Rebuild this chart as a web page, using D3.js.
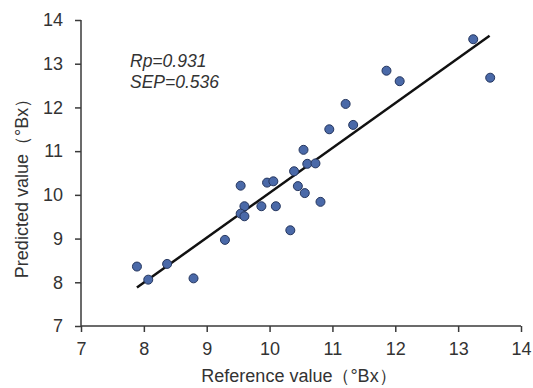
<!DOCTYPE html>
<html>
<head>
<meta charset="utf-8">
<script src="https://cdn.jsdelivr.net/npm/d3@7"></script>
<style>
	body { margin: 0; background: #fff; }
	svg { display: block; font-family: Arial, 'Liberation Sans', sans-serif; }
	.axis path, .axis line { stroke: #3a3a3a; stroke-width: 1.5; }
	.axis text { fill: #333; font-size: 18px; font-family: Arial, 'Liberation Sans', sans-serif; }
</style>
</head>
<body>
<div id="chart"></div>
<script>
// reference (x) vs predicted (y), °Bx
const referenceValues = [7.89, 8.07, 8.37, 8.79, 9.29, 9.54, 9.60, 9.54, 9.60, 9.87,
	9.96, 10.06, 10.10, 10.33, 10.45, 10.56, 10.81, 10.39, 10.54, 10.60,
	10.73, 10.95, 11.21, 11.33, 11.86, 12.07, 13.24, 13.51];
const predictedValues = [8.36, 8.06, 8.42, 8.09, 8.97, 10.21, 9.74, 9.57, 9.51, 9.74,
	10.28, 10.31, 9.74, 9.19, 10.20, 10.04, 9.84, 10.54, 11.03, 10.71,
	10.72, 11.50, 12.08, 11.60, 12.84, 12.60, 13.56, 12.68];

// fitted line end points
const fitX = [7.89, 13.50];
const fitY = [7.88, 13.64];

const xTicks = [7, 8, 9, 10, 11, 12, 13, 14];
const yTicks = [7, 8, 9, 10, 11, 12, 13, 14];
const statLines = ['Rp=0.931', 'SEP=0.536'];

const width = 533;
const height = 388;
const margin = { top: 20, right: 12, bottom: 62, left: 81 };

const svg = d3.select('#chart').append('svg')
	.attr('width', width)
	.attr('height', height);

const x = d3.scaleLinear()
	.domain([7, 14])
	.range([margin.left, 521]);

const y = d3.scaleLinear()
	.domain([7, 14])
	.range([326, margin.top]);

//
// axes
//
const xAxisG = svg.append('g')
	.attr('class', 'axis')
	.attr('transform', 'translate(0,326)')
	.call(d3.axisBottom(x).tickValues(xTicks).tickSize(6).tickPadding(10).tickFormat(d3.format('d')));

const yAxisG = svg.append('g')
	.attr('class', 'axis')
	.attr('transform', 'translate(' + margin.left + ',0)')
	.call(d3.axisLeft(y).tickValues(yTicks).tickSize(6).tickPadding(12).tickFormat(d3.format('d')));

// plain axis lines, no end caps
xAxisG.select('.domain').attr('d', 'M' + margin.left + ',0H521');
yAxisG.select('.domain').attr('d', 'M0,' + margin.top + 'V326');

//
// axis titles
//
svg.append('text')
	.attr('x', 299)
	.attr('y', 382)
	.attr('text-anchor', 'middle')
	.style('font-size', '18px')
	.style('fill', '#333')
	.text('Reference value（°Bx）');

svg.append('text')
	.attr('transform', 'translate(28,184) rotate(-90)')
	.attr('text-anchor', 'middle')
	.style('font-size', '18px')
	.style('fill', '#333')
	.text('Predicted value（°Bx）');

//
// fitted line
//
svg.append('line')
	.attr('x1', x(fitX[0]))
	.attr('y1', y(fitY[0]))
	.attr('x2', x(fitX[1]))
	.attr('y2', y(fitY[1]))
	.attr('stroke', '#111')
	.attr('stroke-width', 2.5);

//
// points
//
svg.selectAll('circle')
	.data(referenceValues.map((d, i) => ({ ref: d, pred: predictedValues[i] })))
	.enter()
	.append('circle')
	.attr('cx', (d) => x(d.ref))
	.attr('cy', (d) => y(d.pred))
	.attr('r', 4.5)
	.style('fill', '#4a69a8')
	.style('stroke', '#25365e')
	.style('stroke-width', 1);

//
// stats text
//
svg.selectAll('.stat')
	.data(statLines)
	.enter()
	.append('text')
	.attr('class', 'stat')
	.attr('x', 130)
	.attr('y', (d, i) => 67 + i * 21)
	.style('font-size', '17.5px')
	.style('font-style', 'italic')
	.style('fill', '#333')
	.text((d) => d);
</script>
</body>
</html>
